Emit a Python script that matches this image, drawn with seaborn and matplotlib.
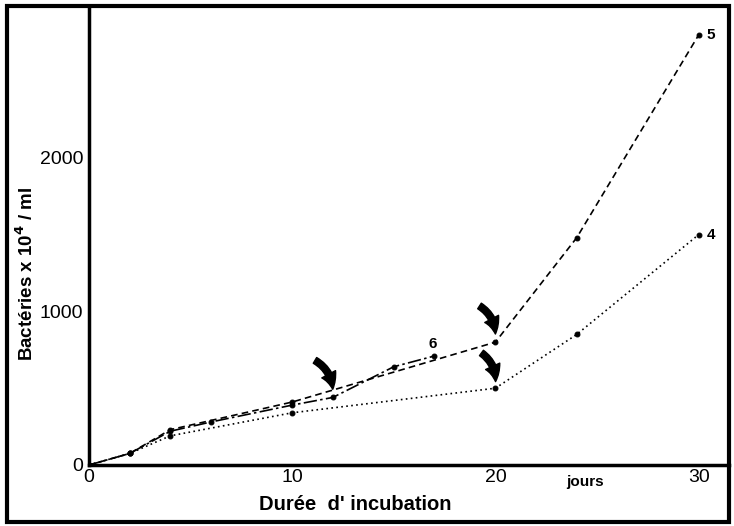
import matplotlib
matplotlib.use("Agg")
import matplotlib.pyplot as plt
import matplotlib.patches as mpatches
from matplotlib.ticker import MultipleLocator
import pandas as pd
import seaborn as sns

# Valeurs (jours, bactéries x 10^4 / ml)
jours_4 = [0, 2, 4, 10, 20, 24, 30]
bact_4 = [0, 75, 190, 340, 500, 850, 1500]

jours_5 = [0, 2, 4, 10, 20, 24, 30]
bact_5 = [0, 75, 230, 410, 800, 1480, 2800]

jours_6 = [0, 2, 4, 6, 10, 12, 15, 17]
bact_6 = [0, 75, 220, 280, 390, 440, 640, 710]

x_ticks = [0, 10, 20, 30]
y_ticks = [0, 1000, 2000]

sns.set_style("white")
plt.rcParams["font.family"] = ["Liberation Sans", "DejaVu Sans"]
for k in ["text.color", "axes.labelcolor", "xtick.color", "ytick.color"]:
    plt.rcParams[k] = "black"

df = pd.concat([
    pd.DataFrame({"jour": jours_4, "bact": bact_4, "serie": "4"}),
    pd.DataFrame({"jour": jours_5, "bact": bact_5, "serie": "5"}),
    pd.DataFrame({"jour": jours_6, "bact": bact_6, "serie": "6"}),
])

fig = plt.figure(figsize=(7.34, 5.26), dpi=100)
ax = fig.add_axes([0.1213, 0.116, 0.872, 0.869])

sns.lineplot(data=df, x="jour", y="bact", style="serie",
             dashes={"4": (1, 2), "5": (4, 2.5), "6": (8, 2, 1.5, 2)},
             markers={"4": "o", "5": "o", "6": "o"},
             color="black", linewidth=1.2, markersize=3.5,
             markeredgecolor="black", legend=False, ax=ax)

ax.set_xlim(0, 31.5)
ax.set_ylim(0, 2977)
ax.set_xticks(x_ticks)
ax.set_yticks(y_ticks)
ax.xaxis.set_minor_locator(MultipleLocator(2))
ax.yaxis.set_minor_locator(MultipleLocator(100))
ax.tick_params(axis="both", which="both", direction="in", color="black",
               width=1.5)
ax.tick_params(axis="both", which="major", length=6, labelsize=14)
ax.tick_params(axis="both", which="minor", length=5)
ax.tick_params(axis="x", pad=3)
ax.tick_params(axis="y", pad=4)

for s in ["top", "right"]:
    ax.spines[s].set_visible(False)
for s in ["left", "bottom"]:
    ax.spines[s].set_linewidth(2.5)
    ax.spines[s].set_color("black")

ax.set_xlabel("Durée  d' incubation", fontsize=14.5, fontweight="bold")
ax.xaxis.set_label_coords(0.416, -0.066)
ax.set_ylabel("Bactéries x 10$^{\\mathbf{4}}$ / ml", fontsize=13.5,
              fontweight="bold")
ax.yaxis.set_label_coords(-0.082, 0.418)

ax.text(24.4, -0.037, "jours", transform=ax.get_xaxis_transform(),
        ha="center", va="center", fontsize=11, fontweight="bold")

ax.text(30.4, 2800, "5", ha="left", va="center", fontsize=11, fontweight="bold")
ax.text(30.4, 1500, "4", ha="left", va="center", fontsize=11, fontweight="bold")
ax.text(16.9, 790, "6", ha="center", va="center", fontsize=11, fontweight="bold")

# flèches courbes
for tail, head in [((11.0, 690), (12.0, 475)),
                   ((19.1, 1045), (20.0, 835)),
                   ((19.2, 740), (20.0, 525))]:
    ax.annotate("", xy=head, xytext=tail,
                arrowprops=dict(arrowstyle="simple,head_width=0.7,head_length=0.7,tail_width=0.3",
                                connectionstyle="arc3,rad=-0.3",
                                fc="black", ec="black", mutation_scale=16))

fig.patches.append(mpatches.Rectangle((0.009, 0.007), 0.984, 0.982,
                                      transform=fig.transFigure, fill=False,
                                      ec="black", lw=3))

fig.savefig("out.png", dpi=100)
